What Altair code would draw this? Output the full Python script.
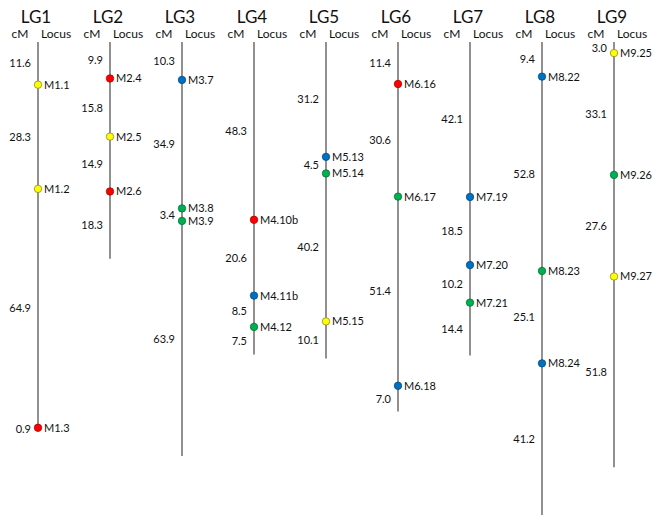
import altair as alt
import pandas as pd

groups = ["LG1", "LG2", "LG3", "LG4", "LG5", "LG6", "LG7", "LG8", "LG9"]
loci = [
    ["M1.1", "M1.2", "M1.3"],
    ["M2.4", "M2.5", "M2.6"],
    ["M3.7", "M3.8", "M3.9"],
    ["M4.10b", "M4.11b", "M4.12"],
    ["M5.13", "M5.14", "M5.15"],
    ["M6.16", "M6.17", "M6.18"],
    ["M7.19", "M7.20", "M7.21"],
    ["M8.22", "M8.23", "M8.24"],
    ["M9.25", "M9.26", "M9.27"],
]
intervals = [
    [11.6, 28.3, 64.9, 0.9],
    [9.9, 15.8, 14.9, 18.3],
    [10.3, 34.9, 3.4, 63.9],
    [48.3, 20.6, 8.5, 7.5],
    [31.2, 4.5, 40.2, 10.1],
    [11.4, 30.6, 51.4, 7.0],
    [42.1, 18.5, 10.2, 14.4],
    [9.4, 52.8, 25.1, 41.2],
    [3.0, 33.1, 27.6, 51.8],
]
marker_class = [
    ["yellow", "yellow", "red"],
    ["red", "yellow", "red"],
    ["blue", "green", "green"],
    ["red", "blue", "green"],
    ["blue", "green", "yellow"],
    ["red", "green", "blue"],
    ["blue", "blue", "green"],
    ["blue", "green", "blue"],
    ["yellow", "green", "yellow"],
]

class_domain = ["yellow", "red", "blue", "green"]
fill_range = ["#FFFF00", "#FF0000", "#0070C0", "#00B050"]
stroke_range = ["#8a8a30", "#b00000", "#004a80", "#00703a"]

line_rows, marker_rows, interval_rows, head_rows = [], [], [], []
for g, names, ivs, cls in zip(groups, loci, intervals, marker_class):
    total = sum(ivs)
    line_rows.append({"lg": g, "start": 0.0, "end": total})
    head_rows.append({"lg": g})
    pos = 0.0
    for i, v in enumerate(ivs):
        interval_rows.append({"lg": g, "mid": pos + v / 2, "label": f"{v:.1f}"})
        pos += v
        if i < len(names):
            marker_rows.append({"lg": g, "pos": pos, "name": names[i], "cls": cls[i]})

lines = pd.DataFrame(line_rows)
markers = pd.DataFrame(marker_rows)
ivals = pd.DataFrame(interval_rows)
heads = pd.DataFrame(head_rows)

FONT = "Lato"
xs = alt.X("lg:N", scale=alt.Scale(type="point", domain=groups, range=[30, 606], padding=0), axis=None)
yscale = alt.Scale(domain=[-9.24, 128.5], reverse=True, nice=False, zero=False)

rules = alt.Chart(lines).mark_rule(color="#555555", strokeWidth=1.3).encode(
    x=xs,
    y=alt.Y("start:Q", scale=yscale, axis=None),
    y2="end:Q",
)

dots = alt.Chart(markers).mark_circle(size=55, opacity=1, strokeWidth=0.8).encode(
    x=xs,
    y=alt.Y("pos:Q", scale=yscale, axis=None),
    fill=alt.Fill("cls:N", scale=alt.Scale(domain=class_domain, range=fill_range), legend=None),
    stroke=alt.Stroke("cls:N", scale=alt.Scale(domain=class_domain, range=stroke_range), legend=None),
)

names = alt.Chart(markers).mark_text(
    align="left", baseline="middle", dx=6, dy=1, font=FONT, fontSize=11, color="#111111"
).encode(x=xs, y=alt.Y("pos:Q", scale=yscale, axis=None), text="name:N")

ivtext = alt.Chart(ivals).mark_text(
    align="right", baseline="middle", dx=-7, dy=1, font=FONT, fontSize=11, color="#111111"
).encode(x=xs, y=alt.Y("mid:Q", scale=yscale, axis=None), text="label:N")

titles = alt.Chart(heads).mark_text(
    align="center", baseline="top", dx=-2, font=FONT, fontSize=17, color="#111111"
).encode(x=xs, y=alt.value(2), text="lg:N")

cm = alt.Chart(heads).mark_text(
    align="center", baseline="middle", dx=-18, font=FONT, fontSize=12, color="#111111"
).encode(x=xs, y=alt.value(26), text=alt.value("cM"))

locus = alt.Chart(heads).mark_text(
    align="left", baseline="middle", dx=3, font=FONT, fontSize=12, color="#111111"
).encode(x=xs, y=alt.value(26), text=alt.value("Locus"))

chart = alt.layer(rules, dots, names, ivtext, titles, cm, locus).properties(
    width=645,
    height=507,
    padding=0,
    autosize=alt.AutoSizeParams(type="none"),
).configure_view(stroke=None)

chart.save("out.html", embed_options={"renderer": "svg", "actions": False})
